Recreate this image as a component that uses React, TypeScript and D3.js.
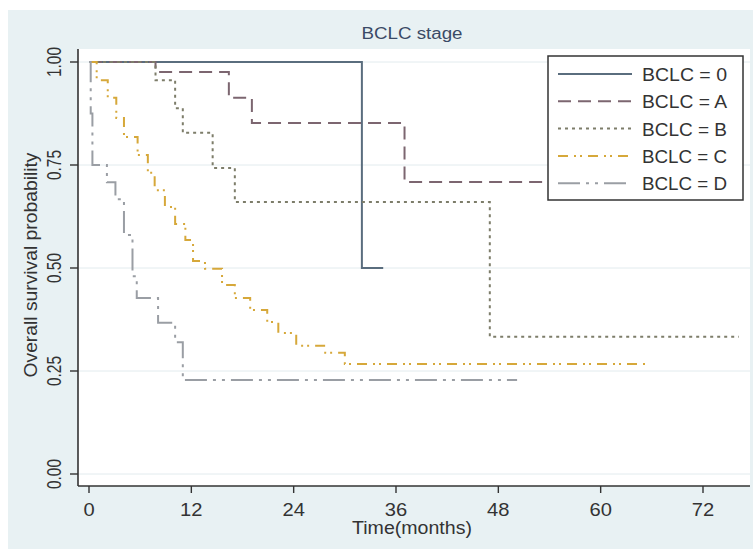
import React from "react";
import * as d3 from "d3";

// Kaplan-Meier curves, BCLC stage
const GROUPS = ["BCLC = 0", "BCLC = A", "BCLC = B", "BCLC = C", "BCLC = D"];

const TIME_0 = [0, 32.0, 34.5];
const SURV_0 = [1.0, 0.5, 0.5];

const TIME_A = [0, 7.8, 16.4, 19.1, 37.0, 70];
const SURV_A = [1.0, 0.976, 0.913, 0.852, 0.709, 0.709];

const TIME_B = [0, 7.8, 10.1, 11.0, 14.5, 17.1, 47.0, 76.2];
const SURV_B = [1.0, 0.956, 0.888, 0.828, 0.743, 0.66, 0.333, 0.333];

const TIME_C = [0, 0.9, 2.2, 3.2, 4.1, 5.7, 6.9, 7.7, 8.9, 10.1, 11.3, 12.2, 13.6, 15.6, 17.1, 18.9, 20.9, 22.2, 24.3, 27.7, 30.0, 65.4];
const SURV_C = [1.0, 0.956, 0.913, 0.864, 0.818, 0.774, 0.731, 0.689, 0.648, 0.607, 0.568, 0.517, 0.498, 0.459, 0.427, 0.398, 0.369, 0.342, 0.311, 0.294, 0.267, 0.267];

const TIME_D = [0, 0.2, 0.4, 2.1, 3.1, 4.1, 5.1, 5.6, 8.1, 10.1, 11.0, 50.2];
const SURV_D = [1.0, 0.875, 0.75, 0.708, 0.667, 0.58, 0.48, 0.427, 0.367, 0.32, 0.228, 0.228];

const X_TICKS = [0, 12, 24, 36, 48, 60, 72];
const Y_TICKS = [0, 0.25, 0.5, 0.75, 1];

const COLORS = ["#5a6d7e", "#7c6670", "#7d7d6a", "#d6a83a", "#9a9ea4"];
const DASHES = ["none", "13,7", "3,4", "10,6,2,4,2,6", "22,6,3,6,3,6"];

const W = 753;
const H = 551;
const FONT = "'Liberation Sans', Arial, sans-serif";

export default function App() {
  const x = d3.scaleLinear().domain([0, 72]).range([89, 703]);
  const y = d3.scaleLinear().domain([0, 1]).range([474, 62]);

  const plot = { left: 78, right: 750, top: 49, bottom: 486 };

  const series = [
    [TIME_0, SURV_0],
    [TIME_A, SURV_A],
    [TIME_B, SURV_B],
    [TIME_C, SURV_C],
    [TIME_D, SURV_D],
  ];

  const line = d3
    .line<[number, number]>()
    .x(d => x(d[0]))
    .y(d => y(d[1]))
    .curve(d3.curveStepAfter);

  const legend = { x: 548, y: 56, w: 195, h: 144 };
  const rowY = (i: number) => 74 + i * 27.3;

  return (
    <div style={{ position: "absolute", left: 0, top: 0 }}>
      <svg width={W} height={H} style={{ display: "block", fontFamily: FONT }}>
        <rect x={0} y={0} width={W} height={H} fill="#ffffff" />
        <rect x={8} y={10} width={W - 8} height={539} fill="#e8f1f3" />
        <rect
          x={plot.left}
          y={plot.top}
          width={plot.right - plot.left}
          height={plot.bottom - plot.top}
          fill="#ffffff"
        />

        {/* gridlines */}
        {Y_TICKS.map(t => (
          <line
            key={"g" + t}
            x1={plot.left}
            x2={plot.right}
            y1={y(t)}
            y2={y(t)}
            stroke="#e2ebee"
            strokeWidth={1}
          />
        ))}

        {/* title */}
        <text x={412} y={39} textAnchor="middle" fontSize={16} fill="#3a4a66" textLength={101} lengthAdjust="spacingAndGlyphs">
          BCLC stage
        </text>

        {/* curves */}
        {series.map(([ts, ss], i) => (
          <path
            key={GROUPS[i]}
            d={line(ts.map((t, j) => [t, ss[j]] as [number, number])) || ""}
            fill="none"
            stroke={COLORS[i]}
            strokeWidth={2}
            strokeDasharray={DASHES[i]}
          />
        ))}

        {/* axes */}
        <line x1={plot.left} x2={plot.left} y1={plot.top} y2={plot.bottom} stroke="#333" strokeWidth={1.6} />
        <line x1={plot.left} x2={plot.right} y1={plot.bottom} y2={plot.bottom} stroke="#333" strokeWidth={1.6} />
        {Y_TICKS.map(t => (
          <g key={"y" + t}>
            <line x1={70} x2={plot.left} y1={y(t)} y2={y(t)} stroke="#333" strokeWidth={1.4} />
            <text
              transform={`translate(61,${y(t)}) rotate(-90) scale(1,1.3)`}
              textAnchor="middle"
              fontSize={15.5}
              fill="#333"
            >
              {d3.format(".2f")(t)}
            </text>
          </g>
        ))}
        {X_TICKS.map(t => (
          <g key={"x" + t}>
            <line x1={x(t)} x2={x(t)} y1={plot.bottom} y2={493} stroke="#333" strokeWidth={1.4} />
            <text
              transform={`translate(${x(t)},516) scale(1.12,1)`}
              textAnchor="middle"
              fontSize={18}
              fill="#333"
            >
              {t}
            </text>
          </g>
        ))}
        <text x={412} y={534} textAnchor="middle" fontSize={18} fill="#333" textLength={120} lengthAdjust="spacingAndGlyphs">
          Time(months)
        </text>
        <text
          transform="translate(37,265) rotate(-90)"
          textAnchor="middle"
          fontSize={18}
          fill="#333"
          textLength={225}
          lengthAdjust="spacingAndGlyphs"
        >
          Overall survival probability
        </text>

        {/* legend */}
        <rect
          x={legend.x}
          y={legend.y}
          width={legend.w}
          height={legend.h}
          fill="#ffffff"
          stroke="#333"
          strokeWidth={1.5}
        />
        {GROUPS.map((g, i) => (
          <g key={"l" + g}>
            <line
              x1={558}
              x2={632}
              y1={rowY(i)}
              y2={rowY(i)}
              stroke={COLORS[i]}
              strokeWidth={2}
              strokeDasharray={DASHES[i]}
            />
            <text x={642} y={rowY(i) + 7} fontSize={18} fill="#333" textLength={85} lengthAdjust="spacingAndGlyphs">
              {g}
            </text>
          </g>
        ))}
      </svg>
    </div>
  );
}
